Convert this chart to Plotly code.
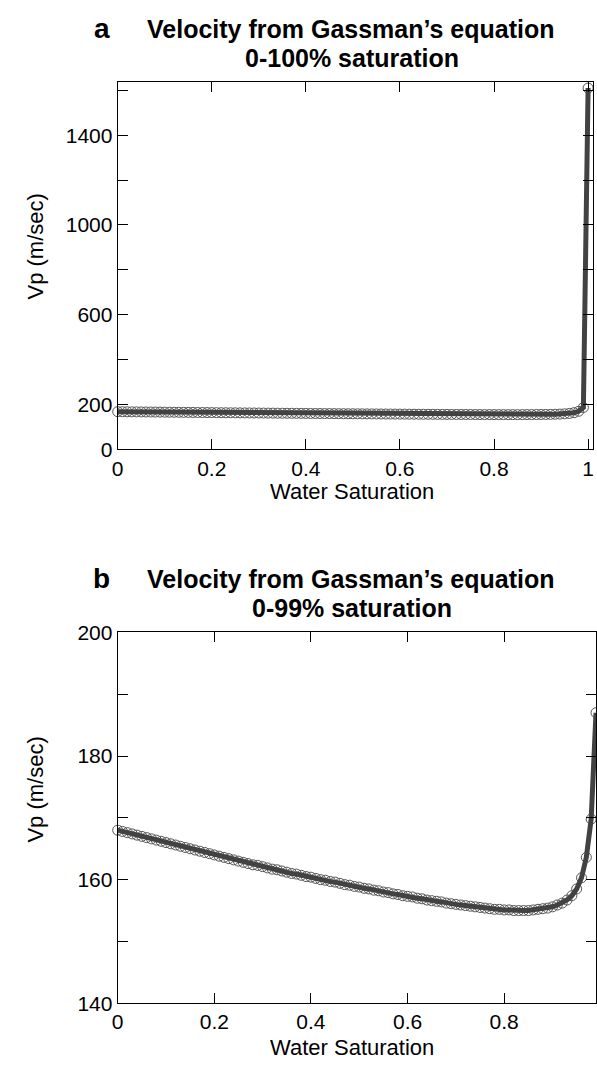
import plotly.graph_objects as go

# Water saturation (0 .. 0.99 step 0.01) and Vp
sw = [round(i * 0.01, 2) for i in range(100)]
vp = [168.0, 167.8, 167.6, 167.4, 167.2, 167.0, 166.8, 166.6, 166.4, 166.2,
      166.0, 165.8, 165.6, 165.4, 165.2, 165.0, 164.8, 164.6, 164.4, 164.2,
      164.0, 163.8, 163.6, 163.4, 163.2, 163.0, 162.8, 162.6, 162.4, 162.3,
      162.1, 161.9, 161.7, 161.6, 161.4, 161.2, 161.0, 160.9, 160.7, 160.5,
      160.4, 160.2, 160.0, 159.9, 159.7, 159.6, 159.4, 159.2, 159.1, 158.9,
      158.8, 158.6, 158.5, 158.3, 158.2, 158.0, 157.9, 157.7, 157.6, 157.4,
      157.3, 157.2, 157.0, 156.9, 156.7, 156.6, 156.5, 156.4, 156.2, 156.1,
      156.0, 155.9, 155.8, 155.7, 155.6, 155.5, 155.4, 155.3, 155.2, 155.2,
      155.1, 155.1, 155.0, 155.0, 155.0, 155.0, 155.1, 155.2, 155.3, 155.4,
      155.6, 155.9, 156.2, 156.7, 157.4, 158.5, 160.3, 163.6, 169.8, 187.0]
sw_full = 1.0
vp_full = 1610.0

sw_a = sw + [sw_full]
vp_a = vp + [vp_full]

xa_ticks = [0, 0.2, 0.4, 0.6, 0.8, 1]
xa_text = ["0", "0.2", "0.4", "0.6", "0.8", "1"]
ya_ticks = [0, 200, 400, 600, 800, 1000, 1200, 1400, 1600]
ya_text = ["0", "200", "", "600", "", "1000", "", "1400", ""]
xb_ticks = [0, 0.2, 0.4, 0.6, 0.8]
xb_text = ["0", "0.2", "0.4", "0.6", "0.8"]
yb_ticks = [140, 150, 160, 170, 180, 190, 200]
yb_text = ["140", "", "160", "", "180", "", "200"]

FONT = "Liberation Sans, Arial, sans-serif"
W, H = 597, 1072
LINE_C = "#424242"
MARK_C = "#555555"

fig = go.Figure()
for xs, ys, xa, ya in [(sw_a, vp_a, "x", "y"), (sw, vp, "x2", "y2")]:
    fig.add_trace(go.Scatter(x=xs, y=ys, mode="markers", xaxis=xa, yaxis=ya,
                             marker=dict(symbol="circle-open", size=10,
                                         color=MARK_C, line=dict(width=1)),
                             showlegend=False, cliponaxis=False))
    fig.add_trace(go.Scatter(x=xs, y=ys, mode="lines", xaxis=xa, yaxis=ya,
                             line=dict(color=LINE_C, width=5),
                             showlegend=False, cliponaxis=False))

axis_common = dict(showline=True, mirror="ticks", linecolor="black", linewidth=1,
                   ticks="inside", ticklen=10, tickcolor="black", tickwidth=1,
                   showgrid=False, zeroline=False,
                   tickfont=dict(family=FONT, size=21, color="black"))

def py(p):
    return 1 - p / H

fig.update_layout(
    width=W, height=H, autosize=False,
    margin=dict(l=0, r=0, t=0, b=0),
    paper_bgcolor="white", plot_bgcolor="white",
    xaxis=dict(domain=[113 / W, 594 / W], range=[0, 1.0105], anchor="y",
               tickvals=xa_ticks, ticktext=xa_text, **axis_common),
    yaxis=dict(domain=[py(447), py(72)], range=[0, 1635], anchor="x",
               tickvals=ya_ticks, ticktext=ya_text, **axis_common),
    xaxis2=dict(domain=[113 / W, 1.0], range=[0, 0.99], anchor="y2",
                tickvals=xb_ticks, ticktext=xb_text, **axis_common),
    yaxis2=dict(domain=[py(1013), py(634)], range=[140, 200], anchor="x2",
                tickvals=yb_ticks, ticktext=yb_text, **axis_common),
)

def ann(text, x, y, size, bold=False, angle=0):
    fig.add_annotation(text=("<b>%s</b>" % text) if bold else text,
                       x=x / W, y=py(y), xref="paper", yref="paper",
                       showarrow=False, textangle=angle,
                       font=dict(family=FONT, size=size, color="black"),
                       xanchor="center", yanchor="middle")

# Panel a texts
ann("a", 97, 17, 28, bold=True)
ann("Velocity from Gassman’s equation", 349, 17, 25, bold=True)
ann("0-100% saturation", 350, 47, 25, bold=True)
ann("Water Saturation", 350, 490, 22)
ann("Vp (m/sec)", 30, 240, 22, angle=-90)

# Panel b texts
ann("b", 97, 579, 28, bold=True)
ann("Velocity from Gassman’s equation", 349, 579, 25, bold=True)
ann("0-99% saturation", 350, 609, 25, bold=True)
ann("Water Saturation", 350, 1058, 22)
ann("Vp (m/sec)", 30, 795, 22, angle=-90)

fig.write_html("out.html")
